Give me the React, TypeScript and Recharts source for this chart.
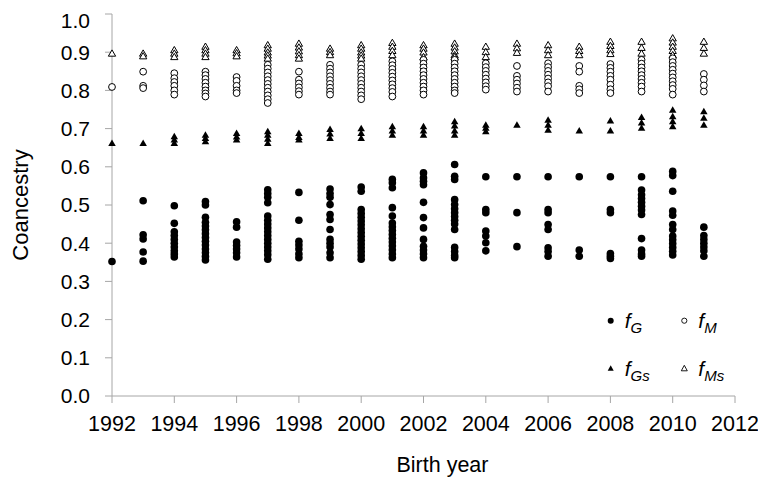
import { ScatterChart, Scatter, XAxis, YAxis, Legend } from "recharts";

// birth years (one column of points per year)
const years = [
  1992, 1993, 1994, 1995, 1996, 1997, 1998, 1999, 2000, 2001, 2002, 2003, 2004,
  2005, 2006, 2007, 2008, 2009, 2010, 2011,
];

const xTicks = [1992, 1994, 1996, 1998, 2000, 2002, 2004, 2006, 2008, 2010, 2012];
const yTicks = [0, 0.1, 0.2, 0.3, 0.4, 0.5, 0.6, 0.7, 0.8, 0.9, 1.0];

// fG: genealogical coancestry, per year
const fG = [
  [0.352],
  [0.511, 0.422, 0.411, 0.377, 0.353],
  [0.498, 0.452, 0.43, 0.42, 0.41, 0.4, 0.39, 0.38, 0.372, 0.364],
  [0.509, 0.5, 0.468, 0.455, 0.445, 0.435, 0.425, 0.415, 0.405, 0.395, 0.385, 0.375, 0.365, 0.356],
  [0.456, 0.442, 0.403, 0.394, 0.385, 0.375, 0.364],
  [0.54, 0.53, 0.52, 0.506, 0.471, 0.46, 0.45, 0.44, 0.43, 0.42, 0.41, 0.4, 0.39, 0.38, 0.37, 0.358],
  [0.533, 0.46, 0.405, 0.395, 0.385, 0.372, 0.362],
  [0.542, 0.53, 0.52, 0.501, 0.475, 0.462, 0.436, 0.41, 0.4, 0.39, 0.375, 0.362],
  [0.547, 0.536, 0.488, 0.478, 0.468, 0.458, 0.448, 0.438, 0.428, 0.418, 0.408, 0.398, 0.388, 0.378, 0.368, 0.358],
  [0.567, 0.558, 0.545, 0.493, 0.471, 0.453, 0.443, 0.433, 0.423, 0.413, 0.403, 0.393, 0.383, 0.372, 0.362],
  [0.584, 0.571, 0.562, 0.553, 0.507, 0.467, 0.44, 0.41, 0.392, 0.382, 0.372, 0.362],
  [0.606, 0.575, 0.567, 0.514, 0.501, 0.49, 0.48, 0.47, 0.46, 0.45, 0.436, 0.389, 0.378, 0.368, 0.362],
  [0.574, 0.488, 0.48, 0.432, 0.419, 0.401, 0.38],
  [0.574, 0.48, 0.391],
  [0.574, 0.488, 0.48, 0.449, 0.436, 0.388, 0.378, 0.366],
  [0.574, 0.382, 0.366],
  [0.574, 0.488, 0.48, 0.373, 0.366, 0.36],
  [0.574, 0.539, 0.527, 0.517, 0.507, 0.497, 0.487, 0.475, 0.412, 0.382, 0.372, 0.366],
  [0.588, 0.577, 0.536, 0.484, 0.473, 0.449, 0.436, 0.419, 0.409, 0.399, 0.389, 0.379, 0.369],
  [0.442, 0.42, 0.41, 0.4, 0.39, 0.38, 0.366],
];

// fM: molecular coancestry
const fM = [
  [0.809],
  [0.849, 0.812, 0.806],
  [0.845, 0.832, 0.822, 0.812, 0.8, 0.789],
  [0.849, 0.84, 0.83, 0.82, 0.81, 0.8, 0.792, 0.784],
  [0.835, 0.825, 0.812, 0.8, 0.793],
  [0.867, 0.857, 0.847, 0.837, 0.827, 0.817, 0.807, 0.797, 0.787, 0.777, 0.767],
  [0.849, 0.828, 0.818, 0.808, 0.798, 0.789],
  [0.867, 0.857, 0.847, 0.837, 0.827, 0.817, 0.807, 0.797, 0.789],
  [0.867, 0.857, 0.847, 0.837, 0.827, 0.817, 0.807, 0.797, 0.787, 0.777],
  [0.876, 0.866, 0.856, 0.846, 0.836, 0.826, 0.816, 0.806, 0.796, 0.784],
  [0.88, 0.87, 0.86, 0.85, 0.84, 0.83, 0.82, 0.81, 0.8, 0.789],
  [0.88, 0.87, 0.86, 0.85, 0.84, 0.83, 0.82, 0.81, 0.8, 0.793],
  [0.871, 0.861, 0.851, 0.841, 0.831, 0.821, 0.811, 0.802],
  [0.864, 0.838, 0.828, 0.818, 0.807, 0.797],
  [0.871, 0.861, 0.851, 0.841, 0.831, 0.821, 0.811, 0.797],
  [0.864, 0.849, 0.812, 0.803, 0.793],
  [0.869, 0.859, 0.849, 0.838, 0.828, 0.815, 0.803, 0.793],
  [0.88, 0.87, 0.86, 0.85, 0.84, 0.83, 0.82, 0.81, 0.797],
  [0.884, 0.874, 0.864, 0.854, 0.844, 0.834, 0.824, 0.814, 0.804, 0.789],
  [0.843, 0.828, 0.813, 0.797],
];

// fGs: genealogical self-coancestry
const fGs = [
  [0.662],
  [0.662],
  [0.68, 0.671, 0.662],
  [0.684, 0.675, 0.667],
  [0.688, 0.679, 0.671],
  [0.693, 0.684, 0.673, 0.662],
  [0.688, 0.678, 0.671],
  [0.699, 0.687, 0.675],
  [0.701, 0.688, 0.675],
  [0.706, 0.695, 0.684],
  [0.706, 0.695, 0.684],
  [0.719, 0.708, 0.695, 0.684],
  [0.71, 0.702, 0.693],
  [0.71],
  [0.723, 0.71, 0.697],
  [0.695],
  [0.721, 0.695],
  [0.73, 0.716, 0.702],
  [0.749, 0.732, 0.719, 0.706],
  [0.745, 0.728, 0.71],
];

// fMs: molecular self-coancestry
const fMs = [
  [0.897],
  [0.897, 0.89],
  [0.906, 0.897, 0.888],
  [0.915, 0.906, 0.897, 0.888],
  [0.906, 0.898, 0.89],
  [0.919, 0.91, 0.9, 0.892, 0.884],
  [0.923, 0.913, 0.903, 0.893, 0.884],
  [0.91, 0.901, 0.893],
  [0.919, 0.91, 0.9, 0.892, 0.884],
  [0.925, 0.915, 0.904, 0.893],
  [0.919, 0.91, 0.9, 0.888],
  [0.923, 0.913, 0.903, 0.893, 0.888],
  [0.915, 0.901, 0.888],
  [0.923, 0.911, 0.899],
  [0.919, 0.906, 0.893],
  [0.915, 0.904, 0.893],
  [0.928, 0.917, 0.906, 0.896],
  [0.928, 0.912, 0.897],
  [0.937, 0.926, 0.915, 0.904, 0.893],
  [0.928, 0.912, 0.897],
];

const toPoints = (cols: number[][]) =>
  cols.flatMap((vals, i) => vals.map((v) => ({ x: years[i], y: v })));

const FONT = "'Liberation Sans', Arial, Helvetica, sans-serif";
const AXIS = "#a6a6a6";

const dot = (fill: string, r: number) => (p: any) =>
  <circle cx={p.cx} cy={p.cy} r={r} fill={fill} stroke="#000" strokeWidth={fill === "#000" ? 0 : 1} />;

const tri = (fill: string, w: number, h: number) => (p: any) =>
  (
    <path
      d={`M${p.cx},${p.cy - h * 0.55} L${p.cx + w / 2},${p.cy + h * 0.45} L${p.cx - w / 2},${p.cy + h * 0.45} Z`}
      fill={fill}
      stroke="#000"
      strokeWidth={fill === "#000" ? 0 : 1}
    />
  );

function LegendBox() {
  const item = (x: number, y: number, marker: any, sub: string) => (
    <g>
      {marker(x, y)}
      <text x={x + 14} y={y + 7.5} fontFamily={FONT} fontStyle="italic" fontSize={21} fill="#000">
        f
        <tspan fontSize={15} dy={5}>
          {sub}
        </tspan>
      </text>
    </g>
  );
  return (
    <svg width={170} height={85} style={{ overflow: "visible" }}>
      {item(20.7, 20.7, (x: number, y: number) => <circle cx={x} cy={y} r={3} fill="#000" />, "G")}
      {item(94.3, 20.7, (x: number, y: number) => <circle cx={x} cy={y} r={2.6} fill="#fff" stroke="#000" strokeWidth={0.9} />, "M")}
      {item(20.7, 68.3, (x: number, y: number) => <path d={`M${x},${y - 3} L${x + 3},${y + 2.5} L${x - 3},${y + 2.5} Z`} fill="#000" />, "Gs")}
      {item(94.3, 68.3, (x: number, y: number) => <path d={`M${x},${y - 3} L${x + 3},${y + 2.5} L${x - 3},${y + 2.5} Z`} fill="#fff" stroke="#000" strokeWidth={0.9} />, "Ms")}
    </svg>
  );
}

export default function App() {
  return (
    <div style={{ width: 758, height: 477 }}>
      <ScatterChart width={758} height={477} margin={{ top: 6, right: 31, bottom: 0, left: 0 }}>
        <XAxis
          type="number"
          dataKey="x"
          domain={[1992, 2012]}
          ticks={xTicks}
          height={89}
          stroke={AXIS}
          tickSize={7}
          tickMargin={13}
          tick={{ fontSize: 21.5, fill: "#000", fontFamily: FONT }}
          label={{
            value: "Birth year",
            position: "insideBottom",
            offset: 13,
            dx: 19,
            style: { fontSize: 21.5, fill: "#000", fontFamily: FONT },
          }}
        />
        <YAxis
          type="number"
          dataKey="y"
          domain={[0, 1]}
          ticks={yTicks}
          width={104}
          stroke={AXIS}
          tickSize={7}
          tickMargin={15}
          tickFormatter={(v: number) => v.toFixed(1)}
          tick={{ fontSize: 21, fill: "#000", fontFamily: FONT }}
          label={{
            value: "Coancestry",
            angle: -90,
            position: "insideLeft",
            offset: 12,
            style: { fontSize: 22, fill: "#000", fontFamily: FONT, textAnchor: "middle" },
          }}
        />
        <Legend
          layout="vertical"
          align="center"
          verticalAlign="middle"
          wrapperStyle={{ left: 582, top: 292, width: 170, height: 85 }}
          content={() => <LegendBox />}
        />
        <Scatter name="fMs" data={toPoints(fMs)} shape={tri("#fff", 7.3, 6.3)} isAnimationActive={false} />
        <Scatter name="fGs" data={toPoints(fGs)} shape={tri("#000", 7.5, 6.5)} isAnimationActive={false} />
        <Scatter name="fM" data={toPoints(fM)} shape={dot("#fff", 3.4)} isAnimationActive={false} />
        <Scatter name="fG" data={toPoints(fG)} shape={dot("#000", 3.8)} isAnimationActive={false} />
      </ScatterChart>
    </div>
  );
}
